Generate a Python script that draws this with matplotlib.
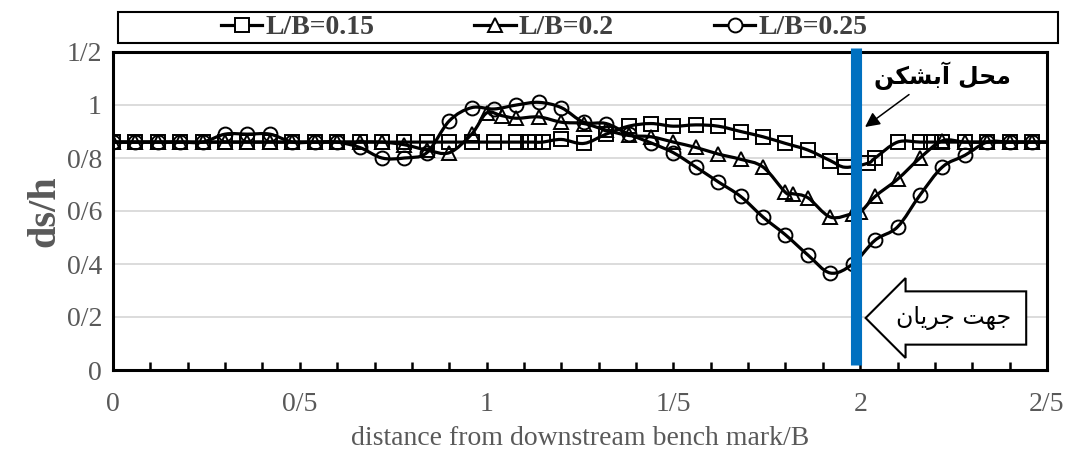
import numpy as np
import matplotlib.pyplot as plt
from matplotlib.path import Path
from matplotlib.patches import PathPatch, Rectangle
from matplotlib.lines import Line2D

plt.rcParams['font.family'] = ['Liberation Serif', 'DejaVu Sans']

# L/B=0.15 (مربع)
x_015 = [0.00, 0.06, 0.12, 0.18, 0.24, 0.30, 0.36, 0.42, 0.48, 0.54, 0.60, 0.66, 0.72, 0.78, 0.84,
         0.90, 0.96, 1.02, 1.08, 1.11, 1.13, 1.15, 1.20, 1.26, 1.32,
         1.38, 1.44, 1.50, 1.56, 1.62, 1.68, 1.74, 1.80, 1.86, 1.92,
         1.96, 2.02, 2.04, 2.10, 2.16, 2.19, 2.22, 2.28, 2.34, 2.40,
         2.46, 2.50]
y_015 = [0.86, 0.86, 0.86, 0.86, 0.86, 0.86, 0.86, 0.86, 0.86, 0.86, 0.86, 0.86, 0.86, 0.86, 0.86,
         0.86, 0.86, 0.86, 0.86, 0.86, 0.86, 0.86, 0.87, 0.855, 0.89,
         0.92, 0.93, 0.92, 0.925, 0.92, 0.90, 0.88, 0.855, 0.83, 0.79,
         0.765, 0.78, 0.80, 0.86, 0.86, 0.86, 0.86, 0.86, 0.86, 0.86,
         0.86, 0.86]

# L/B=0.2 (مثلث)
x_02 = [0.00, 0.06, 0.12, 0.18, 0.24, 0.30, 0.36, 0.42, 0.48, 0.54, 0.60, 0.66, 0.72, 0.78, 0.84,
        0.90, 0.96, 1.00, 1.04, 1.08, 1.14, 1.20, 1.26, 1.32, 1.38,
        1.44, 1.50, 1.56, 1.62, 1.68, 1.74, 1.80, 1.82, 1.86, 1.92,
        1.98, 2.00, 2.04, 2.10, 2.16, 2.22, 2.28, 2.34, 2.40, 2.46,
        2.50]
y_02 = [0.86, 0.86, 0.86, 0.86, 0.86, 0.86, 0.86, 0.86, 0.86, 0.86, 0.86, 0.86, 0.86, 0.85, 0.83,
        0.82, 0.89, 0.97, 0.96, 0.95, 0.955, 0.935, 0.93, 0.905, 0.885,
        0.88, 0.86, 0.84, 0.815, 0.795, 0.766, 0.67, 0.665, 0.65, 0.577,
        0.59, 0.595, 0.655, 0.72, 0.80, 0.865, 0.86, 0.86, 0.86, 0.86,
        0.86]

# L/B=0.25 (دایره)
x_025 = [0.00, 0.06, 0.12, 0.18, 0.24, 0.30, 0.36, 0.42, 0.48, 0.54, 0.60, 0.66, 0.72, 0.78, 0.84,
         0.90, 0.96, 1.02, 1.08, 1.14, 1.20, 1.26, 1.32, 1.38, 1.44,
         1.50, 1.56, 1.62, 1.68, 1.74, 1.80, 1.86, 1.92, 1.98, 2.04,
         2.10, 2.16, 2.22, 2.28, 2.34, 2.40, 2.46, 2.50]
y_025 = [0.86, 0.86, 0.86, 0.86, 0.86, 0.89, 0.89, 0.89, 0.86, 0.86, 0.86, 0.84, 0.80, 0.80, 0.82,
         0.94, 0.99, 0.985, 1.00, 1.01, 0.99, 0.935, 0.93, 0.89, 0.857,
         0.82, 0.766, 0.71, 0.655, 0.577, 0.51, 0.434, 0.366, 0.40, 0.49,
         0.54, 0.66, 0.766, 0.81, 0.86, 0.86, 0.86, 0.86]

series = [(x_015, y_015, 's', 'L/B=0.15'),
          (x_02, y_02, '^', 'L/B=0.2'),
          (x_025, y_025, 'o', 'L/B=0.25')]

x_ticklabels = ['0', '0/5', '1', '1/5', '2', '2/5']
y_ticklabels = ['0', '0/2', '0/4', '0/6', '0/8', '1', '1/2']
gate_x = 1.99

# متن فارسی به صورت شکل‌های نمایشی و ترتیب دیداری
txt_gate = '\ufee6\ufb91\ufeb8\ufe91\ufe81 \ufede\ufea4\ufee3'   # محل آبشکن
txt_flow = '\ufee5\ufe8e\ufbfe\ufeae\ufe9f \ufe96\ufeec\ufe9f'   # جهت جریان


def smooth_path(xs, ys, t=1/6):
    # منحنی نرم شبیه اکسل (Catmull-Rom)
    p = np.column_stack([xs, ys])
    n = len(p)
    verts = [p[0]]
    codes = [Path.MOVETO]
    for i in range(n - 1):
        p0 = p[i - 1] if i > 0 else p[i]
        p3 = p[i + 2] if i + 2 < n else p[i + 1]
        c1 = p[i] + (p[i + 1] - p0) * t
        c2 = p[i + 1] - (p3 - p[i]) * t
        verts += [c1, c2, p[i + 1]]
        codes += [Path.CURVE4] * 3
    return Path(verts, codes)


fig = plt.figure(figsize=(10.65, 4.54), dpi=100)
ax = fig.add_axes([113/1065, 84/454, 934/1065, 318/454])

handles = []
for xs, ys, m, lab in series:
    ax.add_patch(PathPatch(smooth_path(xs, ys), fill=False, lw=2.3, ec='black', zorder=3))
    ms = 10 if m == 'o' else 9.5
    ax.plot(xs[:-1], ys[:-1], ls='none', marker=m, ms=ms, mfc='none', mec='black', mew=1.4, zorder=4)
    handles.append(Line2D([], [], color='black', lw=2.3, marker=m, ms=ms, mfc='white',
                          mec='black', mew=1.4, label=lab))

ax.plot([gate_x, gate_x], [0.02, 1.215], color='#0070C0', lw=8, solid_capstyle='butt',
        zorder=5, clip_on=False)

ax.set_xlim(0, 2.5)
ax.set_ylim(0, 1.2)
ax.set_xticks(np.arange(0, 2.51, 0.5))
ax.set_xticks(np.arange(0, 2.51, 0.1), minor=True)
ax.set_xticklabels(x_ticklabels)
ax.set_yticks(np.arange(0, 1.21, 0.2))
ax.set_yticklabels(y_ticklabels)
ax.tick_params(axis='x', which='both', direction='in', length=6, width=1.8, pad=16,
               labelsize=20, labelcolor='#595959')
ax.tick_params(axis='y', length=0, pad=8, labelsize=20, labelcolor='#595959')
ax.yaxis.grid(True, color='#d9d9d9', lw=1.3)
ax.set_axisbelow(True)
for s in ax.spines.values():
    s.set_linewidth(2.2)

ax.set_xlabel('distance from downstream bench mark/B', fontsize=20, color='#595959', labelpad=6)
ax.set_ylabel('ds/h', fontsize=29, fontweight='bold', color='#595959', labelpad=2)

# آبشکن
ax.annotate(txt_gate, xy=(2.013, 0.917), xytext=(2.22, 1.11), fontsize=17, fontweight='bold',
            family=['DejaVu Sans'], ha='center', va='center',
            arrowprops=dict(arrowstyle='-|>', color='black', lw=1.1, mutation_scale=22,
                            relpos=(0.3, 0.0), shrinkA=2, shrinkB=0))

# جهت جریان
fig.text(954/1065, 1 - 318/454, txt_flow, fontsize=17, family=['DejaVu Sans'],
         ha='center', va='center',
         bbox=dict(boxstyle='larrow,pad=0.62', fc='white', ec='black', lw=1.5))

fig.patches.append(Rectangle((118/1065, 1 - 43/454), 940/1065, 31/454, transform=fig.transFigure,
                             fill=False, ec='black', lw=1.5))
fig.legend(handles=handles, loc='center', bbox_to_anchor=(544/1065, 1 - 27.5/454), ncol=3,
           frameon=False, handlelength=1.5, handletextpad=0.1, columnspacing=3.6,
           prop=dict(family='Liberation Serif', weight='bold', size=20), labelcolor='#404040')

fig.savefig('out.png', dpi=100)
